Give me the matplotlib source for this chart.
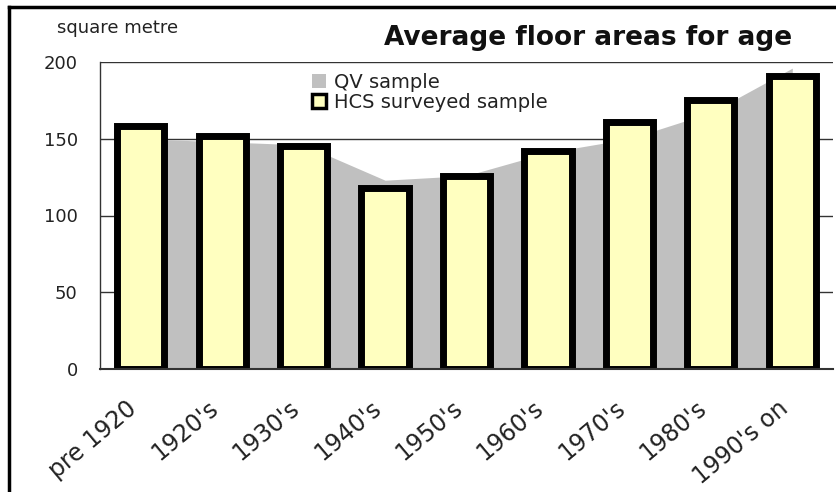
import matplotlib
matplotlib.use("Agg")
import matplotlib.pyplot as plt
from matplotlib.patches import Patch
from matplotlib.lines import Line2D
import matplotlib.transforms as mtransforms

# data
periods = ["pre 1920", "1920's", "1930's", "1940's", "1950's",
           "1960's", "1970's", "1980's", "1990's on"]
qv_sample = [150, 148, 146, 123, 126, 141, 150, 167, 196]
hcs_sample = [158, 152, 145, 118, 126, 142, 161, 175, 191]
y_ticks = [0, 50, 100, 150, 200]

plt.rcParams['font.family'] = ['DejaVu Sans']

fig = plt.figure(figsize=(8.37, 4.92), dpi=100)
ax = fig.add_axes([100/837, 123/492, 733/837, 307/492])

x = list(range(len(periods)))

ax.fill_between(x, qv_sample, 0, color='#C0C0C0', lw=0, zorder=1)
ax.bar(x, hcs_sample, width=0.58, color='#FFFFC0', edgecolor='black',
       linewidth=5, zorder=2)

ax.set_xlim(-0.5, len(periods) - 0.5)
ax.set_ylim(0, 200)
ax.set_yticks(y_ticks)
ax.yaxis.grid(True, color='#333333', lw=1)
ax.set_axisbelow(True)
ax.tick_params(axis='y', length=0, pad=16, labelsize=13, labelcolor='#222222')
ax.tick_params(axis='x', length=0, pad=0)

ax.set_xticks(x)
ax.set_xticklabels(periods, rotation=40, ha='right', va='top',
                   rotation_mode='anchor', fontsize=17, color='#222222')
offset = mtransforms.ScaledTranslation(-15/100, -27/100, fig.dpi_scale_trans)
for lab in ax.get_xticklabels():
    lab.set_transform(lab.get_transform() + offset)

for s in ['top', 'right']:
    ax.spines[s].set_visible(False)
ax.spines['left'].set_color('#333333')
ax.spines['left'].set_linewidth(1)
ax.spines['bottom'].set_color('#333333')
ax.spines['bottom'].set_linewidth(1.5)

ax.text(-0.058, 1.08, 'square metre', transform=ax.transAxes, fontsize=13,
        color='#222222', ha='left', va='bottom')
fig.text(588/837, 1 - 38/492, 'Average floor areas for age', fontsize=19,
         fontweight='bold', color='#111111', ha='center', va='center')

handles = [Patch(facecolor='#C0C0C0', edgecolor='none'),
           Patch(facecolor='#FFFFC0', edgecolor='black', linewidth=2.5)]
fig.legend(handles, ['QV sample', 'HCS surveyed sample'], loc='upper left',
           bbox_to_anchor=(302/837, 1 - 63/492), frameon=False, fontsize=14,
           handlelength=0.75, handleheight=0.75, handletextpad=0.4,
           labelspacing=0.05, borderpad=0, labelcolor='#222222')

# outer frame of the original picture
fig.add_artist(Line2D([9/837, 9/837], [0, 1 - 7/492], color='black', lw=2.5,
                      transform=fig.transFigure))
fig.add_artist(Line2D([9/837, 1], [1 - 7/492, 1 - 7/492], color='black', lw=2.5,
                      transform=fig.transFigure))

fig.savefig("out.png", dpi=100)
